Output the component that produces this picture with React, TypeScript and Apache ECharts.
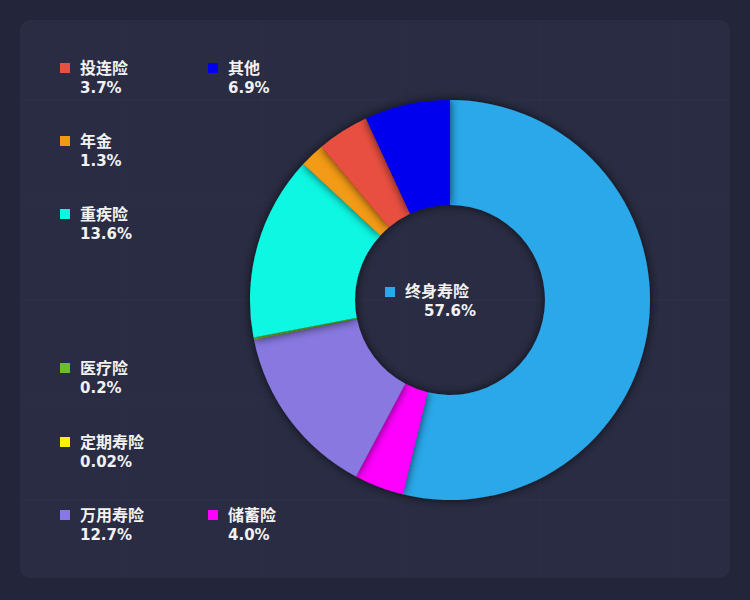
import React, { useEffect, useRef } from "react";
import * as echarts from "echarts";

const categories = ["终身寿险", "储蓄险", "万用寿险", "定期寿险", "医疗险", "重疾险", "年金", "投连险", "其他"];
const sliceSizes = [53.8, 4.0, 14.0, 0.02, 0.2, 14.9, 2.0, 4.2, 6.9];
// percentages as printed in the labels
const shareLabels = ["57.6%", "4.0%", "12.7%", "0.02%", "0.2%", "13.6%", "1.3%", "3.7%", "6.9%"];
const sliceColors = ["#2CA8EA", "#FF00FF", "#8878E0", "#FFF000", "#6BBF2A", "#0AF7E2", "#F39A12", "#E8503F", "#0000EE"];

// layout: [category index, square x, name center y]
const legendLayout: [number, number, number][] = [
  [7, 60, 68],
  [8, 208, 68],
  [6, 60, 141],
  [5, 60, 214],
  [4, 60, 368],
  [3, 60, 442],
  [2, 60, 515],
  [1, 208, 515],
];

const FONT = '"Noto Sans CJK SC", "Noto Sans", sans-serif';
const NUM_FONT = '"DejaVu Sans", "Noto Sans", sans-serif';

export default function App() {
  const ref = useRef<HTMLDivElement>(null);
  useEffect(() => {
    if (!ref.current) return;
    const chart = echarts.init(ref.current, undefined, { renderer: "svg" });
    const graphics: any[] = [];
    graphics.push({
      type: "rect",
      z: -10,
      shape: { x: 20, y: 20, width: 710, height: 558, r: 10 },
      style: { fill: "#292C42" },
    });
    [100, 200, 300, 400, 500].forEach((y) =>
      graphics.push({
        type: "line",
        z: -9,
        shape: { x1: 20, y1: y, x2: 730, y2: y },
        style: { stroke: "rgba(255,255,255,0.025)", lineWidth: 1 },
      })
    );
    [125, 263, 402, 540, 678].forEach((x) =>
      graphics.push({
        type: "line",
        z: -9,
        shape: { x1: x, y1: 20, x2: x, y2: 578 },
        style: { stroke: "rgba(255,255,255,0.02)", lineWidth: 1 },
      })
    );
    legendLayout.forEach(([i, sx, cy]) => {
      graphics.push({
        type: "rect",
        shape: { x: sx, y: cy - 5, width: 10, height: 10 },
        style: { fill: sliceColors[i] },
      });
      graphics.push({
        type: "text",
        x: sx + 20,
        y: cy - 1,
        style: {
          text: categories[i],
          fill: "#F2F2F2",
          font: `bold 16px ${FONT}`,
          verticalAlign: "middle",
          align: "left",
        },
      });
      graphics.push({
        type: "text",
        x: sx + 20,
        y: cy + 20,
        style: {
          text: shareLabels[i],
          fill: "#F2F2F2",
          font: `bold 15px ${NUM_FONT}`,
          verticalAlign: "middle",
          align: "left",
        },
      });
    });
    // center label
    graphics.push({
      type: "rect",
      shape: { x: 385, y: 287, width: 10, height: 10 },
      style: { fill: sliceColors[0] },
    });
    graphics.push({
      type: "text",
      x: 405,
      y: 290,
      style: {
        text: categories[0],
        fill: "#F2F2F2",
        font: `bold 16px ${FONT}`,
        verticalAlign: "middle",
        align: "left",
      },
    });
    graphics.push({
      type: "text",
      x: 450,
      y: 311,
      style: {
        text: shareLabels[0],
        fill: "#F2F2F2",
        font: `bold 15px ${NUM_FONT}`,
        verticalAlign: "middle",
        align: "center",
      },
    });

    chart.setOption({
      animation: false,
      backgroundColor: "#23263A",
      graphic: graphics,
      series: [
        {
          type: "pie",
          center: [450, 300],
          radius: [95, 200],
          startAngle: 90,
          clockwise: true,
          label: { show: false },
          labelLine: { show: false },
          emphasis: { disabled: true },
          itemStyle: {
            shadowBlur: 10,
            shadowColor: "rgba(8,12,25,0.7)",
          },
          data: categories.map((name, i) => ({
            name,
            value: sliceSizes[i],
            itemStyle: { color: sliceColors[i] },
          })),
        },
      ],
    });
    return () => chart.dispose();
  }, []);
  return (
    <div
      ref={ref}
      style={{ position: "fixed", left: 0, top: 0, width: 750, height: 600 }}
    />
  );
}
